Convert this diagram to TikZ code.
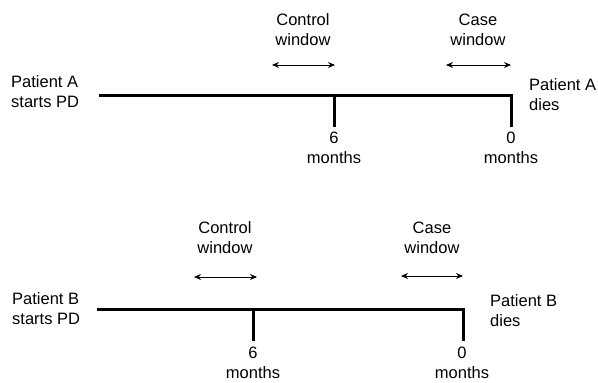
\documentclass[tikz,border=0pt]{standalone}
\usepackage{fontspec}
\setmainfont{Liberation Sans}
\usetikzlibrary{arrows.meta,positioning}
\tikzset{
x=1pt, y=-1pt, % one unit is one pixel of the layout, rows counted downwards
timeline/.style={line width=3pt}, % the thick patient time lines and their ticks
window/.style={<->, >={Stealth[length=7pt,width=6pt]}, line width=1pt}, % the double arrows for the windows
txt/.style={align=center, inner sep=0pt, font=\fontsize{16.5}{20}\selectfont}, % centred labels
side/.style={txt, align=left, anchor=west}, % labels at the ends of a time line
}

\begin{document}
\begin{tikzpicture}
\useasboundingbox (0,0) rectangle (598,383);

% patient A
\coordinate (a0) at (99,95);
\coordinate (a6) at (334,95);
\coordinate (aend) at (511,95);
\coordinate (a6b) at (334,127);
\coordinate (aendb) at (511,127);
\coordinate (acl) at (272,65);
\coordinate (acr) at (335,65);
\coordinate (asl) at (446,65);
\coordinate (asr) at (511,65);

\node[side] (startA) at (11,92) {Patient A\\starts PD};
\node[side] (deadA) at (529,95) {Patient A\\dies};
\node[txt] (sixA) at (334,148) {6\\months};
\node[txt] (zeroA) at (511,148) {0\\months};
\node[txt] (ctrlA) at (303,30) {Control\\window};
\node[txt] (caseA) at (478,30) {Case\\window};

\draw[timeline] (a0) -- (aend) -- (aendb);
\draw[timeline] (a6) -- (a6b);
\draw[window] (acl) -- (acr);
\draw[window] (asl) -- (asr);

% patient B
\coordinate (b0) at (97,309);
\coordinate (b6) at (253,309);
\coordinate (bend) at (463,309);
\coordinate (b6b) at (253,341);
\coordinate (bendb) at (463,341);
\coordinate (bcl) at (194,277);
\coordinate (bcr) at (257,277);
\coordinate (bsl) at (401,276);
\coordinate (bsr) at (463,276);

\node[side] (startB) at (12,309) {Patient B\\starts PD};
\node[side] (deadB) at (490,311) {Patient B\\dies};
\node[txt] (sixB) at (253,363) {6\\months};
\node[txt] (zeroB) at (462,363) {0\\months};
\node[txt] (ctrlB) at (225,238) {Control\\window};
\node[txt] (caseB) at (432,238) {Case\\window};

\draw[timeline] (b0) -- (bend) -- (bendb);
\draw[timeline] (b6) -- (b6b);
\draw[window] (bcl) -- (bcr);
\draw[window] (bsl) -- (bsr);

\end{tikzpicture}
\end{document}
